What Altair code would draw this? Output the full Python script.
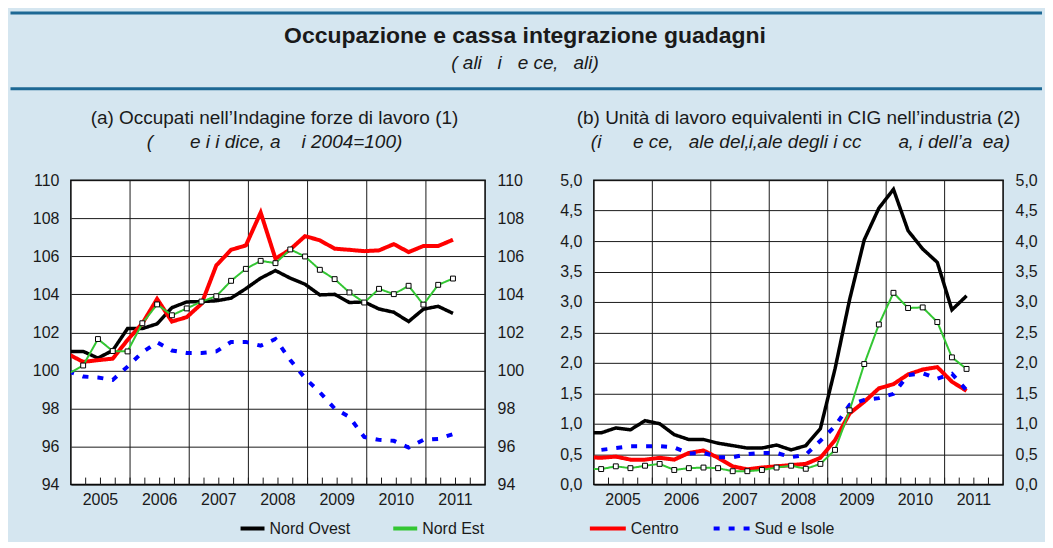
import altair as alt
import pandas as pd

FONT = "Liberation Sans"
TXT = "#1a1a1a"
BG = "#d5e6f0"
BAR = "#1d6894"
NB = "\u00a0"

SERIES = ["Nord Ovest", "Nord Est", "Centro", "Sud e Isole"]
COLORS = ["#000000", "#33c633", "#ff0000", "#0000ff"]
DASHES = [[1, 0], [1, 0], [1, 0], [6, 9]]
WIDTHS = {"Nord Ovest": 3.5, "Nord Est": 2, "Centro": 4, "Sud e Isole": 4}
DRAW_ORDER = ["Nord Ovest", "Centro", "Sud e Isole", "Nord Est"]

N_QUARTERS = 28          # 2005 Q1 .. 2011 Q4
YEARS = ["2005", "2006", "2007", "2008", "2009", "2010", "2011"]

# quarterly values; the first value of each list is 2004 Q4 (cut by the left border)
A_NORD_OVEST = [101.0, 101.0, 100.65, 101.05, 102.2, 102.2, 102.45, 103.3, 103.6, 103.62, 103.66,
                103.8, 104.3, 104.85, 105.25, 104.85, 104.53, 103.97, 104.0, 103.57, 103.6,
                103.23, 103.06, 102.57, 103.22, 103.37, 103.0]
A_NORD_EST = [99.83, 100.26, 101.65, 101.02, 101.0, 102.48, 103.47, 102.9, 103.26, 103.62, 103.9,
              104.71, 105.34, 105.76, 105.64, 106.36, 105.99, 105.29, 104.8, 104.1, 103.57,
              104.29, 104.01, 104.45, 103.46, 104.5, 104.83]
A_CENTRO = [100.85, 100.45, 100.54, 100.62, 101.6, 102.47, 103.76, 102.57, 102.8, 103.5, 105.52,
            106.34, 106.57, 108.3, 105.87, 106.36, 107.06, 106.84, 106.4, 106.34, 106.27,
            106.31, 106.64, 106.22, 106.54, 106.54, 106.87]
A_SUD = [99.95, 99.68, 99.63, 99.5, 100.2, 100.95, 101.48, 101.05, 100.92, 100.92, 101.0,
         101.5, 101.5, 101.3, 101.65, 100.55, 99.6, 98.85, 98.0, 97.55, 96.5,
         96.35, 96.3, 95.95, 96.35, 96.4, 96.65]

B_NORD_OVEST = [0.85, 0.85, 0.93, 0.90, 1.05, 1.0, 0.82, 0.74, 0.74, 0.68, 0.64,
                0.60, 0.60, 0.65, 0.57, 0.64, 0.92, 1.9, 3.04, 4.02, 4.54,
                4.85, 4.17, 3.87, 3.65, 2.87, 3.10]
B_NORD_EST = [0.26, 0.255, 0.30, 0.27, 0.31, 0.34, 0.24, 0.27, 0.28, 0.27, 0.22,
              0.22, 0.24, 0.28, 0.31, 0.26, 0.34, 0.57, 1.22, 1.98, 2.63,
              3.15, 2.90, 2.91, 2.67, 2.09, 1.90]
B_CENTRO = [0.45, 0.44, 0.46, 0.41, 0.41, 0.44, 0.41, 0.52, 0.56, 0.44, 0.30,
            0.25, 0.28, 0.30, 0.32, 0.34, 0.44, 0.73, 1.17, 1.36, 1.58,
            1.65, 1.81, 1.89, 1.93, 1.69, 1.54]
B_SUD = [0.60, 0.57, 0.60, 0.63, 0.63, 0.63, 0.61, 0.51, 0.52, 0.45, 0.45,
         0.50, 0.52, 0.52, 0.45, 0.49, 0.72, 0.96, 1.31, 1.39, 1.42,
         1.49, 1.80, 1.83, 1.74, 1.82, 1.55]

A_Y_TICKS = [94, 96, 98, 100, 102, 104, 106, 108, 110]
B_Y_TICKS = [0.0, 0.5, 1.0, 1.5, 2.0, 2.5, 3.0, 3.5, 4.0, 4.5, 5.0]

TITLE = "Occupazione e cassa integrazione guadagni"
SUBTITLE = "(" + NB + "ali" + NB * 3 + "i" + NB * 3 + "e ce\u201a" + NB * 3 + "ali)"
A_TITLE = "(a) Occupati nell\u2019Indagine forze di lavoro (1)"
A_SUB = "(" + NB * 7 + "e i i" + NB + "dice, a" + NB * 4 + "i" + NB + "2004=100)"
B_TITLE = "(b) Unit\u00e0 di lavoro equivalenti in CIG nell\u2019industria (2)"
B_SUB = ("(i" + NB * 6 + "e ce\u201a" + NB * 3 + "ale del\u201ai\u201aale degli i cc" + NB * 7
         + "a\u201a i dell\u2019a" + NB * 2 + "ea)")


def build(lists, offset):
    rows = []
    for name, vals in zip(SERIES, lists):
        for i, v in enumerate(vals):
            rows.append({"series": name, "t": i - 1 + offset, "v": v})
    return pd.DataFrame(rows)


def text_layer(s, x, y, size, weight="normal", style="normal"):
    return alt.Chart(pd.DataFrame({"s": [s]})).mark_text(
        font=FONT, fontSize=size, fontWeight=weight, fontStyle=style, color=TXT,
        align="center", baseline="middle"
    ).encode(text="s:N", x=alt.value(x), y=alt.value(y))


def rule_layer(x1, x2, y, color, width):
    return alt.Chart(pd.DataFrame({"d": [0]})).mark_rule(
        color=color, strokeWidth=width
    ).encode(x=alt.value(x1), x2=alt.value(x2), y=alt.value(y))


def panel(df, W, H, ydom, yvals, ylab, leg_vals, leg_x, leg_y, sym, colpad, extras):
    xs = alt.Scale(domain=[0, N_QUARTERS], nice=False, zero=False)
    ys = alt.Scale(domain=ydom, nice=False, zero=False)
    common = dict(values=yvals, ticks=False, domain=False, labelExpr=ylab, labelFontSize=16,
                  labelFont=FONT, labelColor=TXT, title=None, labelOverlap=False)
    y_left = alt.Axis(orient="left", grid=True, gridColor="#1a1a1a", gridWidth=1,
                      labelPadding=12, **common)
    y_right = alt.Axis(orient="right", grid=False, labelPadding=12, **common)
    legend = alt.Legend(values=leg_vals, orient="none", legendX=leg_x, legendY=leg_y,
                        direction="horizontal", title=None, symbolType="stroke",
                        symbolSize=sym, symbolStrokeWidth=4, labelFontSize=16, labelFont=FONT,
                        labelColor=TXT, labelOffset=3, columnPadding=colpad, padding=0)
    color = alt.Color("series:N", scale=alt.Scale(domain=SERIES, range=COLORS), legend=legend)
    dash = alt.StrokeDash("series:N", scale=alt.Scale(domain=SERIES, range=DASHES), legend=legend)

    # vertical year grid lines
    year_bounds = pd.DataFrame({"t": list(range(4, N_QUARTERS, 4))})
    layers = [
        alt.Chart(year_bounds).mark_rule(color="#1a1a1a", strokeWidth=1).encode(
            x=alt.X("t:Q", scale=xs, axis=None))
    ]
    for i, s in enumerate(DRAW_ORDER):
        layers.append(
            alt.Chart(df).transform_filter(alt.datum.series == s).mark_line(
                strokeWidth=WIDTHS[s], clip=True
            ).encode(
                x=alt.X("t:Q", scale=xs, axis=None),
                y=alt.Y("v:Q", scale=ys, axis=y_left if i == 0 else None),
                color=color, strokeDash=dash)
        )
    layers.append(
        alt.Chart(df).transform_filter(
            (alt.datum.series == "Nord Est") & (alt.datum.t >= 0)
        ).mark_square(size=24, fill="white", stroke="black", strokeWidth=1, opacity=1, clip=True).encode(
            x=alt.X("t:Q", scale=xs, axis=None),
            y=alt.Y("v:Q", scale=ys, axis=y_right))
    )
    # quarter tick marks inside the bottom border
    layers.append(
        alt.Chart(pd.DataFrame({"t": list(range(1, N_QUARTERS))})).mark_rule(
            color="#1a1a1a", strokeWidth=1
        ).encode(x=alt.X("t:Q", scale=xs, axis=None), y=alt.value(H - 7), y2=alt.value(H))
    )
    # year labels centred in each year
    year_lab = pd.DataFrame({"t": [4 * i + 2 for i in range(len(YEARS))], "lab": YEARS})
    layers.append(
        alt.Chart(year_lab).mark_text(font=FONT, fontSize=16, color=TXT, align="center",
                                      baseline="middle").encode(
            x=alt.X("t:Q", scale=xs, axis=None), y=alt.value(H + 15), text="lab:N")
    )
    layers.extend(extras)
    return alt.layer(*layers).properties(width=W, height=H)


W_A, W_B, H = 415, 410, 305

df_a = build([A_NORD_OVEST, A_NORD_EST, A_CENTRO, A_SUD], 0.83)
df_b = build([B_NORD_OVEST, B_NORD_EST, B_CENTRO, B_SUD], 0.5)

extras_a = [
    rule_layer(-60.5, 973, -167.5, BAR, 3),
    rule_layer(-60.5, 973, -91.5, BAR, 3),
    rule_layer(-60.5, 973, 359.5, BG, 2),
    text_layer(TITLE, 455, -144, 23, weight="bold"),
    text_layer(SUBTITLE, 455, -117, 19, style="italic"),
    text_layer(A_TITLE, 204, -62, 19),
    text_layer(A_SUB, 204, -38, 19, style="italic"),
]
extras_b = [
    text_layer(B_TITLE, 205, -62, 19),
    text_layer(B_SUB, 207, -38, 19, style="italic"),
]

left = panel(df_a, W_A, H, [94, 110], A_Y_TICKS, "'' + datum.value",
             ["Nord Ovest", "Nord Est"], 168, 335, 576, 35, extras_a)
right = panel(df_b, W_B, H, [0, 5], B_Y_TICKS,
              "replace(format(datum.value, '.1f'), '.', ',')",
              ["Centro", "Sud e Isole"], -6, 329, 1296, 26, extras_b)

chart = alt.hconcat(left, right, spacing=109, bounds="flush").resolve_scale(
    color="independent", strokeDash="independent", x="independent", y="independent"
).properties(
    background=BG, padding={"left": 0, "top": 2, "right": 0, "bottom": 0}
).configure(font=FONT).configure_view(stroke="#000000", strokeWidth=1.5, fill="white")

chart.save("out.html", embed_options={"renderer": "svg", "actions": False})
